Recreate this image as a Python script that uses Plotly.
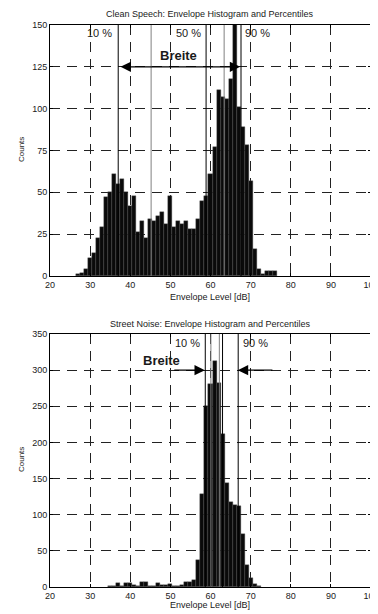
import plotly.graph_objects as go

# ---------------- data ----------------
speech_levels = list(range(27, 77))
speech_counts = [1, 2, 4, 11, 14, 23, 29, 47, 50, 61, 55, 58, 50, 42, 48, 26, 33, 23,
                 34, 33, 36, 38, 31, 48, 29, 33, 31, 33, 28, 28, 34, 45, 48, 61, 77,
                 111, 107, 106, 118, 165, 101, 89, 78, 57, 16, 4, 1, 3, 3, 3]

noise_levels = list(range(35, 73))
noise_counts = [1, 2, 6, 2, 6, 5, 3, 1, 7, 7, 1, 2, 5, 3, 3, 4, 2, 1, 3, 7, 7, 9,
                38, 129, 250, 281, 313, 282, 212, 144, 117, 113, 112, 73, 30, 12, 4, 1]

speech_lines = [37.0, 45.2, 58.9, 63.4, 67.6]
speech_line_colors = ["#000000", "#808080", "#000000", "#808080", "#000000"]
noise_lines = [58.7, 60.1, 62.2, 63.0, 66.9]
noise_line_colors = ["#000000", "#808080", "#808080", "#000000", "#000000"]

x_ticks = [20, 30, 40, 50, 60, 70, 80, 90, 100]
speech_y_ticks = [0, 25, 50, 75, 100, 125, 150]
noise_y_ticks = [0, 50, 100, 150, 200, 250, 300, 350]

titles = ["Clean Speech: Envelope Histogram and Percentiles",
          "Street Noise: Envelope Histogram and Percentiles"]
x_title = "Envelope Level [dB]"
y_title = "Counts"

# ---------------- figure ----------------
# The page body has an 8px default margin, so the figure starts at (8, 8).
OFF = 8
W, H = 378 - OFF, 614 - OFF
FONT = "Liberation Sans, Arial, sans-serif"
TXT = "#1a1a1a"

def py(px):
    return 1 - (px - OFF) / H

def pxx(px):
    return (px - OFF) / W

fig = go.Figure()
bar_marker = dict(color="#0a0a0a", line=dict(color="#505050", width=0.4))
fig.add_trace(go.Bar(x=speech_levels, y=speech_counts, width=1, marker=bar_marker,
                     xaxis="x", yaxis="y", showlegend=False))
fig.add_trace(go.Bar(x=noise_levels, y=noise_counts, width=1, marker=bar_marker,
                     xaxis="x2", yaxis="y2", showlegend=False))

xdom = [pxx(50), pxx(371)]
common_axis = dict(showline=True, linecolor="black", linewidth=1, mirror="ticks",
                   ticks="inside", ticklen=3, tickcolor="black", automargin=False,
                   ticklabeloverflow="allow",
                   showgrid=True, gridcolor="#222222", gridwidth=1, griddash="10px,7px",
                   zeroline=False, tickfont=dict(family=FONT, size=9, color=TXT))

fig.update_layout(
    width=W, height=H, margin=dict(l=0, r=0, t=0, b=0, autoexpand=False),
    paper_bgcolor="white", plot_bgcolor="white", bargap=0,
    xaxis=dict(domain=xdom, range=[20, 100], tickvals=x_ticks, anchor="y", **common_axis),
    yaxis=dict(domain=[py(276), py(25)], range=[0, 150], tickvals=speech_y_ticks,
               anchor="x", **common_axis),
    xaxis2=dict(domain=xdom, range=[20, 100], tickvals=x_ticks, anchor="y2", **common_axis),
    yaxis2=dict(domain=[py(587), py(334)], range=[0, 350], tickvals=noise_y_ticks,
                anchor="x2", **common_axis),
)

shapes = []
for xv, c in zip(speech_lines, speech_line_colors):
    shapes.append(dict(type="line", xref="x", yref="y", x0=xv, x1=xv, y0=0, y1=150,
                       line=dict(color=c, width=1), layer="above"))
for xv, c in zip(noise_lines, noise_line_colors):
    shapes.append(dict(type="line", xref="x2", yref="y2", x0=xv, x1=xv, y0=0, y1=350,
                       line=dict(color=c, width=1), layer="above"))
fig.update_layout(shapes=shapes)

xc = (xdom[0] + xdom[1]) / 2
C = dict(xanchor="center", yanchor="middle", showarrow=False)
ann = []
ann.append(dict(text=titles[0], xref="paper", yref="paper", x=xc, y=py(14),
                font=dict(family=FONT, size=9, color=TXT), **C))
ann.append(dict(text=titles[1], xref="paper", yref="paper", x=xc, y=py(324),
                font=dict(family=FONT, size=9, color=TXT), **C))
for yy in (297, 605):
    ann.append(dict(text=x_title, xref="paper", yref="paper", x=xc, y=py(yy),
                    font=dict(family=FONT, size=9, color=TXT), **C))
for yy in (150, 460):
    ann.append(dict(text=y_title, xref="paper", yref="paper", x=pxx(21), y=py(yy),
                    textangle=-90, font=dict(family=FONT, size=8, color=TXT), **C))

pct_font = dict(family=FONT, size=11, color=TXT)
ann += [
    dict(text="10 %", xref="x", yref="y", x=32.4, y=145, font=pct_font, **C),
    dict(text="50 %", xref="x", yref="y", x=54.4, y=145, font=pct_font, **C),
    dict(text="90 %", xref="x", yref="y", x=71.7, y=145, font=pct_font, **C),
    dict(text="10 %", xref="x2", yref="y2", x=54.3, y=337, font=pct_font, **C),
    dict(text="90 %", xref="x2", yref="y2", x=71.1, y=337, font=pct_font, **C),
]
bfont = dict(family=FONT, size=13, color=TXT)
ann += [
    dict(text="<b>Breite</b>", xref="x", yref="y", x=51.9, y=132, font=bfont, **C),
    dict(text="<b>Breite</b>", xref="x2", yref="y2", x=47.7, y=313, font=bfont, **C),
]
arrow_style = dict(showarrow=True, text="", arrowhead=2, arrowwidth=1.3, arrowsize=1.6,
                   arrowcolor="black", standoff=0, startstandoff=0)
ann.append(dict(xref="x", yref="y", axref="x", ayref="y", x=67.4, y=125, ax=37.2, ay=125,
                arrowside="end+start", startarrowhead=2, startarrowsize=1.6, **arrow_style))
ann.append(dict(xref="x2", yref="y2", axref="x2", ayref="y2", x=58.6, y=300, ax=50.6, ay=300,
                **arrow_style))
ann.append(dict(xref="x2", yref="y2", axref="x2", ayref="y2", x=66.8, y=300, ax=75.8, ay=300,
                **arrow_style))
fig.update_layout(annotations=ann)

fig.write_html("out.html")
